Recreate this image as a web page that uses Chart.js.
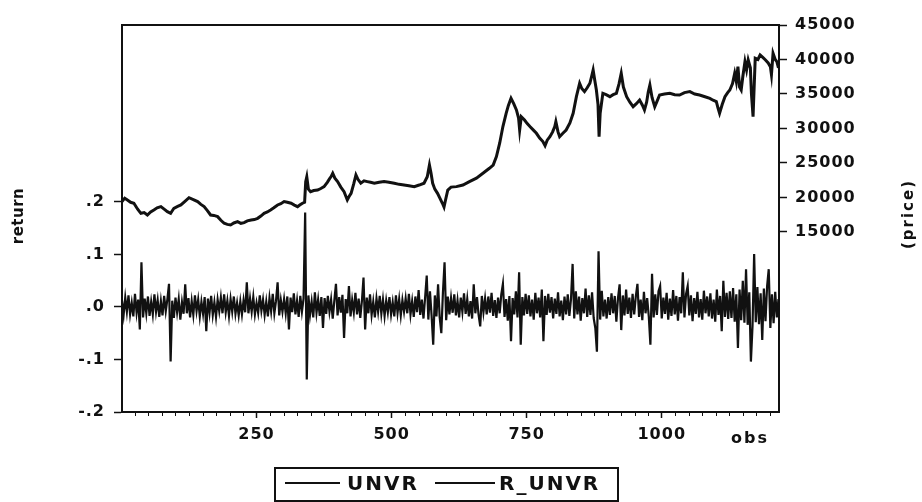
<!DOCTYPE html>
<html>
<head>
<meta charset="utf-8">
<title>UNVR / R_UNVR</title>
<script src="https://cdn.jsdelivr.net/npm/chart.js@4.4.1/dist/chart.umd.min.js"></script>
<style>
  html, body { margin: 0; padding: 0; background: #fff; }
  #wrap { width: 922px; height: 502px; }
</style>
</head>
<body>
<div id="wrap"><canvas id="unvrChart" width="922" height="502"></canvas></div>
<script>
// values

// UNVR closing price (right axis), by observation number
const priceObs = [1,6,11,17,23,30,36,42,48,54,60,66,73,79,85,91,97,104,110,117,
  125,133,141,147,153,159,165,171,178,184,190,196,202,208,215,221,227,233,240,246,
  252,258,264,270,276,282,289,295,301,307,314,320,326,330,335,339,341,343,346,350,
  356,363,369,375,381,385,388,391,395,400,406,412,418,421,425,430,434,438,443,449,
  455,461,468,477,486,495,505,514,523,532,542,551,560,566,570,573,576,580,585,590,
  594,597,600,604,610,620,632,644,657,669,681,688,694,700,706,712,716,721,726,731,
  735,737,740,746,751,756,762,768,774,780,784,788,793,798,802,804,808,811,817,823,
  830,836,842,848,852,857,862,867,870,873,876,879,882,884,886,891,897,904,910,916,
  921,925,929,935,941,947,953,959,964,968,972,975,978,982,987,991,996,1005,1015,1024,
  1033,1042,1052,1061,1070,1080,1089,1095,1101,1104,1107,1112,1117,1122,1126,1131,1135,1138,1141,1144,
  1147,1150,1154,1157,1160,1164,1166,1169,1171,1173,1178,1182,1187,1192,1197,1201,1203,1206,1210,1213,
  1216];
const priceVals = [19400,19900,19640,19300,19160,18300,17700,17800,17460,17900,
  18190,18500,18670,18300,17940,17700,18430,18700,18910,19400,
  19970,19700,19400,19000,18670,18100,17460,17400,17220,16700,
  16260,16100,16020,16300,16500,16250,16350,16600,16740,16800,
  16980,17300,17700,17900,18190,18500,18910,19100,19400,19300,
  19160,18900,18670,18900,19160,19300,22300,23000,21200,20840,
  21000,21080,21300,21570,22200,22700,23030,23500,22800,22300,
  21500,20840,19640,20100,20600,22000,23260,22600,22060,22400,
  22300,22200,22060,22200,22300,22200,22060,21900,21810,21700,
  21570,21800,22060,23000,24710,23500,22060,21200,20600,19800,
  19160,18600,19700,21080,21500,21570,21810,22300,22790,23500,
  24230,24700,25930,27870,30280,32200,33300,34370,33600,32680,
  31500,29780,31700,31230,30700,30280,29800,29300,28600,28100,
  27500,28300,28810,29500,30280,31000,29500,28810,29300,29780,
  30800,32200,34610,36550,35800,35340,35900,36550,37500,38480,
  37000,35580,33500,28810,32200,35100,34900,34610,34900,35100,
  36500,38000,36000,34610,33800,33160,33600,34130,33400,32680,
  33800,35300,36310,34500,33160,33900,34850,35000,35100,34900,
  34850,35200,35340,35000,34850,34600,34370,34100,33890,33000,
  32200,33500,34610,35200,35580,36500,38000,36800,38960,36000,
  35580,37500,39690,38500,39930,38800,35000,31710,36000,40170,
  40000,40650,40300,39930,39500,38960,37800,40890,40000,39690,
  38800];

// R_UNVR daily return (left axis), in thousandths, one value every 3rd obs from obs 1
const returnFirstObs = 1;
const returnObsStep = 3;
const returnsMilli = [
  12,-15,18,-9,22,-14,8,-18,25,-11,14,-43,85,-20,16,-12,20,-17,10,-14,24,-9,13,-19,11,
  -16,21,-8,15,44,-104,12,-21,18,-10,15,-24,9,-13,43,-12,17,-20,11,-15,22,-8,14,-18,10,
  -13,19,-46,16,-11,21,-15,9,-19,14,-8,18,-12,24,-10,12,-17,15,-9,20,-13,8,-16,11,-14,
  13,-10,47,-12,16,-9,19,-14,8,-11,22,-7,14,-15,10,-18,17,-8,25,-12,11,47,-16,13,-9,
  15,-12,20,-43,18,-10,26,-14,12,-19,21,-9,16,180,-138,22,-15,10,-20,28,-11,14,-17,19,-40,
  17,-13,21,-9,14,-22,12,44,-16,19,-11,23,-59,15,-12,40,-18,13,-10,27,-14,16,-21,11,56,
  -43,18,-12,24,-15,10,-20,16,-9,21,-13,14,-17,12,-10,19,-14,9,-18,22,-11,15,-16,13,-9,
  16,-12,25,-14,11,-19,20,-10,32,-15,14,-22,18,60,-24,30,-16,-72,22,-18,43,-20,-50,28,85,
  -25,20,-14,17,-11,24,-16,12,-20,18,-9,26,-13,15,-18,11,-22,43,-12,19,-15,-37,21,-10,16,
  -14,20,-11,27,-17,13,-21,18,-12,24,44,-19,15,-26,21,-65,17,-14,30,-20,66,-72,19,-16,25,
  -13,22,-18,14,-24,27,-12,18,-20,33,-65,21,-15,25,-11,19,-22,16,-13,28,-18,12,-25,20,-14,
  24,-17,15,82,-22,30,-14,20,-26,17,-12,35,-19,22,-15,28,-21,-40,-85,106,-24,31,-18,14,-22,
  19,-15,26,-12,21,-28,17,43,-44,22,-16,33,-13,18,-21,25,-14,20,44,-19,14,-25,29,-12,17,
  -18,-72,63,-20,24,-15,30,40,-22,18,-13,27,-24,16,-17,32,-14,21,-26,19,-12,66,-20,25,40,
  -16,22,-27,17,-13,29,-20,15,-24,31,-12,20,-18,26,-22,14,-28,33,-15,21,-46,50,-19,27,-23,
  30,-21,36,-28,24,-78,33,-25,50,-30,72,-34,28,-104,-36,101,-29,38,-33,26,-63,35,-27,40,72,
  -40,24,-31,29,-20,15
];

const seriesNames = ['UNVR', 'R_UNVR'];
const xMin = 1, xMax = 1217;
const xTickVals = [250, 500, 750, 1000];
const xMinorStep = 25;
const leftMin = -0.2, leftMax = 0.537;
const leftTickVals = [-0.2, -0.1, 0, 0.1, 0.2];
const leftTickLabels = ['-.2', '-.1', '.0', '.1', '.2'];
const rightMin = -11100, rightMax = 45000;
const rightTickVals = [15000, 20000, 25000, 30000, 35000, 40000, 45000];

const ink = '#111111';
const tickFont = { family: "'DejaVu Sans'", size: 16, weight: 'bold' };

const priceData = priceObs.map((o, i) => ({ x: o, y: priceVals[i] }));
const returnData = returnsMilli.map((r, i) => ({ x: returnFirstObs + i * returnObsStep, y: r / 1000 }));

function drawVertical(ctx, text, x, y, spacing) {
    ctx.save();
    ctx.translate(x, y);
    ctx.rotate(-Math.PI / 2);
    ctx.letterSpacing = spacing;
    ctx.textAlign = 'center';
    ctx.textBaseline = 'middle';
    ctx.fillText(text, 0, 0);
    ctx.restore();
}

// frame top, minor ticks, axis titles and the boxed legend
const eviewsDecor = {
    id: 'eviewsDecor',
    beforeDraw(chart) {
        chart.ctx.letterSpacing = '1px';
    },
    afterDraw(chart) {
        const { ctx, chartArea: a, scales } = chart;
        ctx.save();
        ctx.strokeStyle = ink;
        ctx.fillStyle = ink;

        ctx.lineWidth = 2;
        ctx.beginPath();
        ctx.moveTo(a.left - 1, a.top);
        ctx.lineTo(a.right + 1, a.top);
        ctx.stroke();

        ctx.lineWidth = 1;
        ctx.beginPath();
        for (let v = xMinorStep; v < xMax; v += xMinorStep) {
            if (xTickVals.includes(v)) continue;
            const px = Math.round(scales.x.getPixelForValue(v)) + 0.5;
            ctx.moveTo(px, a.bottom);
            ctx.lineTo(px, a.bottom + 4);
        }
        ctx.stroke();

        ctx.font = "bold 16px 'DejaVu Sans'";
        ctx.letterSpacing = '2px';
        ctx.textAlign = 'center';
        ctx.textBaseline = 'middle';
        ctx.fillText('obs', 750, 439);

        ctx.font = "bold 15px 'DejaVu Sans'";
        drawVertical(ctx, 'return', 19, 216, '0.5px');
        drawVertical(ctx, '(price)', 909, 214, '2px');

        // legend box
        ctx.lineWidth = 2;
        ctx.strokeRect(275, 468, 343, 33);
        const items = [
            { x0: 285, x1: 340, tx: 347 },
            { x0: 435, x1: 495, tx: 499 }
        ];
        ctx.font = "bold 20px 'DejaVu Sans'";
        ctx.letterSpacing = '2px';
        ctx.textAlign = 'left';
        items.forEach((it, i) => {
            ctx.lineWidth = 2;
            ctx.beginPath();
            ctx.moveTo(it.x0, 483);
            ctx.lineTo(it.x1, 483);
            ctx.stroke();
            ctx.fillText(seriesNames[i], it.tx, 485);
        });
        ctx.restore();
    }
};

new Chart(document.getElementById('unvrChart'), {
    type: 'line',
    data: {
        datasets: [
            {
                label: seriesNames[0],
                data: priceData,
                yAxisID: 'yRight',
                borderColor: ink,
                borderWidth: 3,
                pointRadius: 0,
                tension: 0
            },
            {
                label: seriesNames[1],
                data: returnData,
                yAxisID: 'yLeft',
                borderColor: ink,
                borderWidth: 2.2,
                pointRadius: 0,
                tension: 0
            }
        ]
    },
    options: {
        responsive: false,
        animation: false,
        devicePixelRatio: 1,
        layout: { padding: { top: 25, left: 0, right: 0, bottom: 0 } },
        plugins: {
            legend: { display: false },
            tooltip: { enabled: false }
        },
        scales: {
            x: {
                type: 'linear',
                min: xMin,
                max: xMax,
                afterBuildTicks: s => { s.ticks = xTickVals.map(v => ({ value: v })); },
                afterFit: s => { s.height = 90; },
                grid: { drawOnChartArea: false, tickLength: 6, tickColor: ink, tickWidth: 1.5 },
                border: { color: ink, width: 2 },
                ticks: {
                    autoSkip: false, maxRotation: 0, padding: 7,
                    color: ink, font: tickFont,
                    callback: v => String(v)
                }
            },
            yLeft: {
                type: 'linear',
                position: 'left',
                min: leftMin,
                max: leftMax,
                afterBuildTicks: s => { s.ticks = leftTickVals.map(v => ({ value: v })); },
                afterFit: s => { s.width = 122; },
                grid: { drawOnChartArea: false, tickLength: 8, tickColor: ink, tickWidth: 1.5 },
                border: { color: ink, width: 2 },
                ticks: {
                    autoSkip: false, padding: 9,
                    color: ink, font: tickFont,
                    callback: (v, i) => leftTickLabels[i]
                }
            },
            yRight: {
                type: 'linear',
                position: 'right',
                min: rightMin,
                max: rightMax,
                afterBuildTicks: s => { s.ticks = rightTickVals.map(v => ({ value: v })); },
                afterFit: s => { s.width = 143; },
                grid: { drawOnChartArea: false, tickLength: 8, tickColor: ink, tickWidth: 1.5 },
                border: { color: ink, width: 2 },
                ticks: {
                    autoSkip: false, padding: 8,
                    color: ink, font: tickFont,
                    callback: v => String(v)
                }
            }
        }
    },
    plugins: [eviewsDecor]
});
</script>
</body>
</html>
